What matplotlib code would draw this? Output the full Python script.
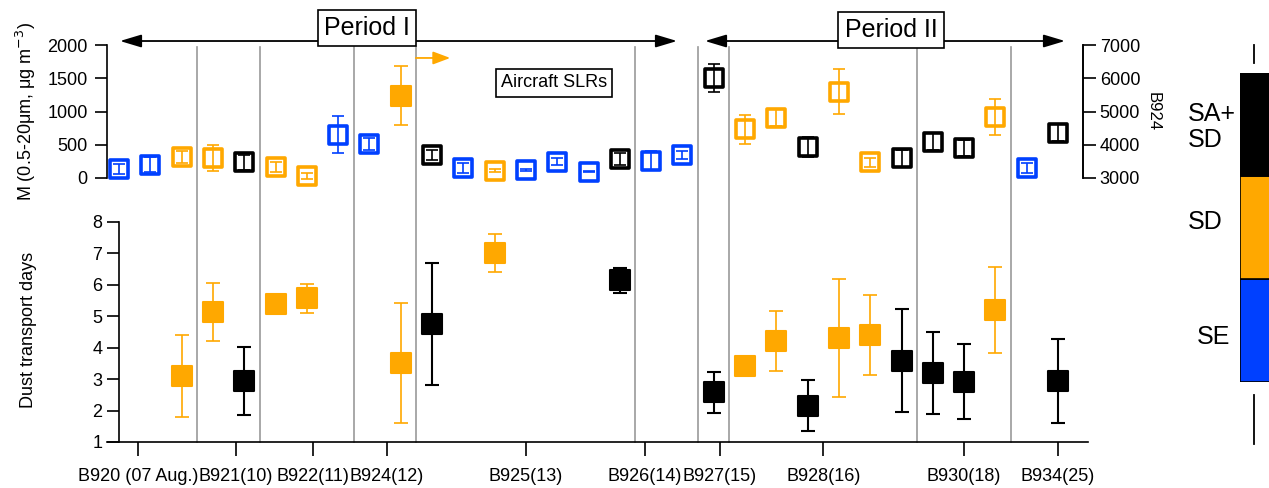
import numpy as np
import matplotlib
matplotlib.use("Agg")
import matplotlib.pyplot as plt
from matplotlib.markers import MarkerStyle
from matplotlib import transforms

plt.rcParams["font.family"] = ["Liberation Sans", "DejaVu Sans"]
plt.rcParams["font.size"] = 13

# source colours
colors = {"SE": "#0040FF", "SD": "#FFA800", "SA": "#000000"}

# top panel: dust mass (left axis), sample index along x
m_idx = [0, 1, 2, 3, 4, 5, 6, 7, 8, 10, 11, 12, 13, 14, 15, 16, 17, 18, 19,
         20, 21, 22, 23, 24, 25, 26, 27, 28, 29, 30]
m_src = ["SE", "SE", "SD", "SD", "SA", "SD", "SD", "SE", "SE", "SA", "SE", "SD",
         "SE", "SE", "SE", "SA", "SE", "SE", "SA", "SD", "SD", "SA", "SD", "SD",
         "SA", "SA", "SA", "SD", "SE", "SA"]
m_val = [130, 200, 320, 300, 235, 170, 30, 650, 510, 345, 145, 110, 120, 245,
         95, 285, 260, 340, 1510, 730, 905, 470, 1300, 235, 295, 545, 445, 915,
         145, 680]
m_err = [75, 115, 90, 195, 110, 75, 45, 280, 90, 75, 75, 20, 20, 55, 10, 90,
         140, 60, 210, 220, 130, 150, 340, 65, 130, 130, 120, 270, 75, 130]

# B924 point on the right axis
b924_idx = 9
b924_val = 5480
b924_err = 880

# bottom panel: dust transport days
d_idx = [2, 3, 4, 5, 6, 9, 10, 12, 16, 19, 20, 21, 22, 23, 24, 25, 26, 27, 28, 30]
d_src = ["SD", "SD", "SA", "SD", "SD", "SD", "SA", "SD", "SA", "SA", "SD", "SD",
         "SA", "SD", "SD", "SA", "SA", "SA", "SD", "SA"]
d_val = [3.1, 5.13, 2.94, 5.38, 5.57, 3.52, 4.75, 7.02, 6.15, 2.58, 3.42, 4.22,
         2.16, 4.30, 4.40, 3.59, 3.19, 2.92, 5.2, 2.94]
d_err = [1.3, 0.93, 1.08, 0, 0.46, 1.9, 1.95, 0.6, 0.4, 0.65, 0, 0.95, 0.82,
         1.88, 1.28, 1.65, 1.3, 1.2, 1.38, 1.34]

# flight ticks and separators
tick_pos = [0.6, 3.74, 6.2, 8.56, 13.0, 16.8, 19.2, 22.5, 27.0, 30.0]
tick_lab = ["B920 (07 Aug.)", "B921(10)", "B922(11)", "B924(12)", "B925(13)",
            "B926(14)", "B927(15)", "B928(16)", "B930(18)", "B934(25)"]
sep_pos = [2.5, 4.5, 7.5, 9.5, 16.5, 18.5, 19.5, 25.5, 28.5]

W, H = 1269, 488
fig = plt.figure(figsize=(W / 100, H / 100), dpi=100)

X0, DX = 119, 31.3  # pixel of index 0, pixels per index


def px2i(px):
    return (px - X0) / DX


def box(l, t, r, b):
    return [l / W, 1 - b / H, (r - l) / W, (b - t) / H]


# ---- bottom panel
ax_b = fig.add_axes(box(107, 222, 1088, 442))
ax_b.set_xlim(px2i(107), px2i(1088))
ax_b.set_ylim(1, 8)
ax_b.spines[["top", "right"]].set_visible(False)
ax_b.spines["left"].set_position(("data", 0))
for s in ax_b.spines.values():
    s.set_linewidth(1.2)
ax_b.set_yticks(range(1, 9))
ax_b.set_xticks(tick_pos)
ax_b.set_xticklabels(tick_lab)
ax_b.tick_params(axis="y", length=9, width=1.2, pad=3)
ax_b.tick_params(axis="x", length=10, width=1.2, pad=9)

sq_round = MarkerStyle("s", joinstyle="round")
for i, v, e, s in zip(d_idx, d_val, d_err, d_src):
    c = colors[s]
    lw = 1.5 if s == "SA" else 1.2
    ax_b.errorbar(i, v, yerr=e, fmt="none", ecolor=c, elinewidth=lw,
                  capsize=5, capthick=lw, zorder=3)
    ax_b.plot(i, v, marker=sq_round, ms=14, mfc=c, mec=c, mew=1.5,
              ls="none", zorder=4)

# separators span both panels
trans = transforms.blended_transform_factory(ax_b.transData, ax_b.transAxes)
for x in sep_pos:
    ax_b.plot([x, x], [0, (442 - 47) / 220], color="#999999", lw=1.2,
              transform=trans, clip_on=False, zorder=1)

# ---- top panel
ax_t = fig.add_axes(box(107, 45, 1083, 178))
ax_t.patch.set_visible(False)
ax_t.set_xlim(px2i(107), px2i(1083))
ax_t.set_ylim(0, 2000)
ax_t.spines[["top", "bottom"]].set_visible(False)
ax_t.spines["left"].set_linewidth(1.2)
ax_t.spines["right"].set_linewidth(1.2)
ax_t.set_xticks([])
ax_t.set_yticks([0, 500, 1000, 1500, 2000])
ax_t.tick_params(axis="y", length=9, width=1.2, pad=5)

ax_r = ax_t.twinx()
ax_r.set_ylim(3000, 7000)
ax_r.spines[["top", "bottom", "left"]].set_visible(False)
ax_r.spines["right"].set_linewidth(1.2)
ax_r.set_yticks([3000, 4000, 5000, 6000, 7000])
ax_r.tick_params(axis="y", length=9, width=1.2, pad=3)

for i, v, e, s in zip(m_idx, m_val, m_err, m_src):
    c = colors[s]
    ax_t.plot(i, v, marker=sq_round, ms=13.5, mfc="white", mec=c, mew=2.6,
              ls="none", zorder=2, clip_on=False)
    ax_t.errorbar(i, v, yerr=e, fmt="none", ecolor=c, elinewidth=1.2,
                  capsize=4, capthick=1.2, zorder=4, clip_on=False)

ax_r.errorbar(b924_idx, b924_val, yerr=b924_err, fmt="none",
              ecolor=colors["SD"], elinewidth=1.2, capsize=5, capthick=1.2)
ax_r.plot(b924_idx, b924_val, marker=sq_round, ms=14, mfc=colors["SD"],
          mec=colors["SD"], mew=1.5, ls="none")

ax_t.annotate("", xy=(px2i(453), 1805), xytext=(px2i(413), 1805),
              arrowprops=dict(arrowstyle="-|>,head_length=0.8,head_width=0.3",
                              color=colors["SD"], lw=1.3), annotation_clip=False)

# period arrows
arr = dict(arrowstyle="<|-|>,head_length=1.0,head_width=0.3", color="black",
           lw=1.3, shrinkA=0, shrinkB=0)
ax_t.annotate("", xy=(px2i(120), 2060), xytext=(px2i(677), 2060),
              arrowprops=arr, annotation_clip=False)
ax_t.annotate("", xy=(px2i(705), 2060), xytext=(px2i(1065), 2060),
              arrowprops=arr, annotation_clip=False)
bx = dict(boxstyle="square,pad=0.25", fc="white", ec="black", lw=1.2)
ax_t.text(px2i(367), 2256, "Period I", fontsize=18, ha="center", va="center",
          bbox=bx, clip_on=False)
ax_t.text(px2i(891), 2226, "Period II", fontsize=18, ha="center", va="center",
          bbox=bx, clip_on=False)
ax_t.text(px2i(554), 1429, "Aircraft SLRs", ha="center", va="center",
          bbox=dict(boxstyle="square,pad=0.3", fc="white", ec="black", lw=1.2))

fig.text(26 / W, 1 - 112 / H, "M (0.5-20\u03bcm, \u03bcg m$^{-3}$)",
         rotation=90, ha="center", va="center")
fig.text(29 / W, 1 - 330 / H, "Dust transport days", rotation=90,
         ha="center", va="center")
fig.text(1153 / W, 1 - 112 / H, "B924", rotation=-90, ha="center",
         va="center", fontsize=12)

# ---- source legend bar
leg_src = ["SE", "SD", "SA"]
ax_l = fig.add_axes(box(1240, 73, 1290, 382))
ax_l.set_xlim(0, 1)
ax_l.set_ylim(0, 3)
ax_l.axis("off")
for k, s in enumerate(leg_src):
    ax_l.bar(0, 1, bottom=k, width=1, align="edge", color=colors[s],
             edgecolor="black", lw=1.2)
ax_l.plot([0.28, 0.28], [3.1, 3.27], color="black", lw=1.3, clip_on=False)
ax_l.plot([0.28, 0.28], [-0.13, -0.6], color="black", lw=1.3, clip_on=False)
fig.text(1188 / W, 1 - 127 / H, "SA+\nSD", fontsize=18, ha="left",
         va="center", linespacing=1.1)
fig.text(1188 / W, 1 - 222 / H, "SD", fontsize=18, ha="left", va="center")
fig.text(1197 / W, 1 - 337 / H, "SE", fontsize=18, ha="left", va="center")

fig.savefig("out.png", dpi=100)
